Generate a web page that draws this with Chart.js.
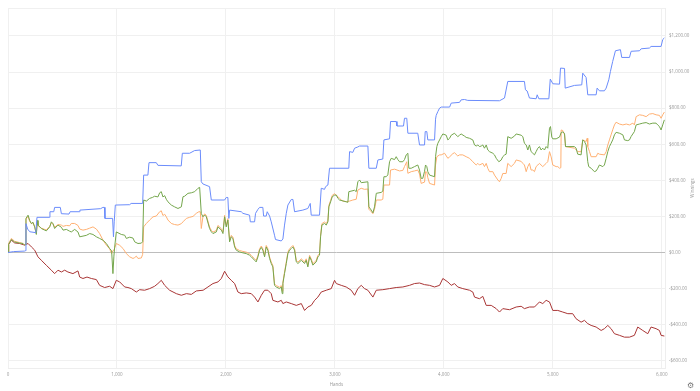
<!DOCTYPE html>
<html>
<head>
<meta charset="utf-8">
<style>
    html, body { margin: 0; padding: 0; background: #fff; }
    .c-graph { position: relative; width: 700px; height: 391px; }
    .c-graph__cog { position: absolute; left: 687px; top: 381px; font: 8px "DejaVu Sans", sans-serif; color: #777; }
</style>
<script src="https://cdn.jsdelivr.net/npm/chart.js@4.4.0/dist/chart.umd.min.js"></script>
</head>
<body>
<div class="c-graph js-graph">
    <canvas class="js-graph-canvas" width="700" height="391"></canvas>
    <span class="c-graph__cog">⚙</span>
</div>
<script>
// [hands, winnings]
const blueSeries = [[0,0],[50,5],[153,8],[160,10],[165,160],[180,130],[200,115],[255,110],[266,195],[380,195],[385,226],[420,226],[428,250],[480,250],[490,215],[560,213],[570,226],[655,226],[660,235],[850,243],[871,250],[885,250],[890,189],[960,189],[968,87],[975,170],[985,263],[1117,265],[1130,272],[1236,272],[1245,429],[1284,429],[1294,498],[1361,498],[1376,483],[1590,480],[1600,550],[1667,550],[1713,565],[1765,568],[1774,392],[1789,380],[1850,365],[1866,291],[1988,291],[2003,305],[2018,305],[2027,189],[2034,235],[2141,226],[2156,217],[2217,207],[2224,170],[2263,170],[2272,217],[2294,239],[2309,250],[2339,250],[2346,202],[2370,202],[2379,226],[2401,202],[2416,170],[2446,96],[2455,72],[2508,64],[2523,75],[2538,152],[2554,217],[2569,263],[2600,294],[2615,294],[2630,226],[2706,235],[2752,244],[2774,272],[2783,207],[2859,207],[2875,356],[2905,350],[2915,365],[2936,374],[2951,467],[3128,467],[3135,559],[3165,555],[3181,578],[3211,585],[3227,590],[3303,590],[3312,467],[3380,467],[3395,513],[3440,518],[3450,624],[3502,630],[3511,726],[3563,726],[3570,701],[3630,701],[3639,744],[3660,744],[3670,661],[3761,661],[3777,596],[3823,596],[3829,670],[3844,670],[3853,624],[3915,624],[3924,739],[3930,760],[3945,781],[3961,800],[3976,806],[4053,806],[4068,828],[4144,832],[4159,846],[4190,848],[4220,843],[4511,841],[4557,856],[4587,948],[4740,948],[4749,902],[4765,895],[4786,856],[4847,852],[4857,874],[4872,852],[4964,852],[4977,961],[5001,935],[5062,933],[5071,1022],[5108,1020],[5114,911],[5199,926],[5266,929],[5275,994],[5306,970],[5321,874],[5398,874],[5407,911],[5428,896],[5474,896],[5490,911],[5514,957],[5529,1003],[5550,1059],[5575,1118],[5621,1124],[5633,1081],[5704,1081],[5719,1115],[5796,1118],[5811,1129],[5887,1133],[5902,1142],[5994,1142],[6009,1180],[6024,1189]];

const greenSeries = [[0,0],[6,45],[31,72],[61,58],[107,52],[138,50],[153,41],[160,45],[165,189],[184,207],[199,178],[215,160],[229,168],[245,142],[260,100],[270,178],[275,152],[306,133],[337,124],[352,120],[383,142],[398,170],[413,160],[428,133],[459,152],[490,140],[505,124],[536,128],[566,118],[581,114],[612,128],[642,114],[658,87],[719,95],[750,105],[780,100],[811,87],[841,78],[872,68],[903,50],[933,22],[951,10],[963,-117],[972,-20],[979,30],[994,114],[1040,100],[1071,96],[1086,78],[1117,85],[1147,80],[1163,59],[1193,50],[1224,52],[1236,60],[1245,291],[1270,285],[1300,300],[1325,305],[1346,312],[1376,308],[1392,331],[1407,337],[1422,308],[1438,315],[1453,295],[1468,281],[1499,263],[1529,253],[1560,244],[1591,253],[1606,309],[1621,312],[1652,328],[1683,331],[1713,337],[1744,356],[1759,361],[1774,217],[1789,198],[1805,208],[1820,198],[1850,133],[1866,115],[1881,105],[1912,114],[1927,142],[1958,124],[1973,105],[1988,198],[2003,142],[2018,180],[2034,59],[2049,87],[2064,78],[2080,31],[2095,13],[2126,3],[2156,-2],[2187,-6],[2217,-15],[2233,-24],[2263,-43],[2278,-52],[2294,-24],[2309,13],[2325,28],[2339,13],[2355,-24],[2370,31],[2385,13],[2401,-33],[2416,-61],[2431,-80],[2446,-182],[2462,-191],[2492,-200],[2508,-191],[2517,-228],[2523,-172],[2538,-117],[2554,-61],[2569,-6],[2584,13],[2600,22],[2615,31],[2630,13],[2646,-52],[2661,-61],[2692,-43],[2722,-61],[2737,-43],[2752,-80],[2768,-24],[2783,-43],[2798,-70],[2829,-52],[2844,-24],[2859,-15],[2869,87],[2881,152],[2905,161],[2921,152],[2936,170],[2945,253],[2961,281],[2976,309],[2997,318],[3013,318],[3028,300],[3043,291],[3104,281],[3119,278],[3128,337],[3181,345],[3196,337],[3211,392],[3227,402],[3242,387],[3303,392],[3312,253],[3334,235],[3349,220],[3364,253],[3380,328],[3425,333],[3440,340],[3450,420],[3471,420],[3486,430],[3502,503],[3517,522],[3548,515],[3563,531],[3578,515],[3594,503],[3624,503],[3639,515],[3655,541],[3670,550],[3679,467],[3701,467],[3731,476],[3761,485],[3777,457],[3792,411],[3807,411],[3823,450],[3832,485],[3844,476],[3853,448],[3869,429],[3915,420],[3924,531],[3936,587],[3945,605],[3961,624],[3976,642],[3991,657],[4022,650],[4037,624],[4053,633],[4068,650],[4098,661],[4128,642],[4144,650],[4159,657],[4190,645],[4205,638],[4236,633],[4266,624],[4282,596],[4297,590],[4312,596],[4327,587],[4343,590],[4358,596],[4373,578],[4389,596],[4404,568],[4419,559],[4450,550],[4465,541],[4481,522],[4505,503],[4526,512],[4541,531],[4557,540],[4572,545],[4587,642],[4618,633],[4648,645],[4664,657],[4710,650],[4725,642],[4740,605],[4756,596],[4771,568],[4786,596],[4801,559],[4817,550],[4832,541],[4847,559],[4863,578],[4878,587],[4893,568],[4908,578],[4924,568],[4939,587],[4954,578],[4970,689],[4979,698],[4991,640],[5000,630],[5031,630],[5062,640],[5077,665],[5092,668],[5108,660],[5117,587],[5199,587],[5214,578],[5229,545],[5260,541],[5275,624],[5291,615],[5306,596],[5321,503],[5330,476],[5352,467],[5382,448],[5398,452],[5413,467],[5428,485],[5459,476],[5474,485],[5490,522],[5505,559],[5520,587],[5535,605],[5550,624],[5566,652],[5581,666],[5612,661],[5643,652],[5658,624],[5688,620],[5704,624],[5719,643],[5749,670],[5765,707],[5796,712],[5826,717],[5857,720],[5887,712],[5918,717],[5948,717],[5963,707],[5979,698],[5994,679],[6009,707],[6024,735]];

const orangeSeries = [[0,0],[6,50],[31,78],[61,62],[107,55],[138,50],[153,41],[160,45],[165,185],[184,200],[199,172],[215,160],[229,165],[245,140],[260,105],[270,175],[275,150],[306,135],[337,128],[352,125],[383,145],[398,165],[413,158],[428,140],[459,155],[490,152],[505,145],[536,150],[566,148],[581,161],[612,161],[642,150],[658,130],[688,124],[719,128],[750,135],[780,142],[811,130],[841,105],[872,68],[903,41],[933,20],[951,-6],[963,10],[972,13],[994,50],[1025,40],[1056,22],[1086,-6],[1117,-24],[1147,-33],[1163,-28],[1178,-20],[1193,-33],[1224,-30],[1236,-10],[1245,142],[1270,161],[1300,180],[1331,198],[1361,202],[1392,226],[1407,231],[1422,205],[1438,212],[1453,198],[1468,180],[1499,161],[1529,155],[1560,152],[1591,160],[1606,170],[1637,189],[1667,195],[1698,200],[1728,217],[1752,226],[1765,226],[1774,133],[1789,198],[1805,214],[1820,206],[1850,141],[1866,123],[1881,113],[1912,122],[1927,150],[1958,132],[1973,113],[1988,206],[2003,150],[2018,188],[2034,67],[2049,95],[2064,86],[2080,39],[2095,21],[2126,11],[2156,6],[2187,2],[2217,-7],[2233,-16],[2263,-35],[2278,-44],[2294,-16],[2309,21],[2325,36],[2339,21],[2355,-16],[2370,39],[2385,21],[2401,-25],[2416,-53],[2431,-72],[2446,-174],[2462,-183],[2492,-192],[2508,-183],[2517,-215],[2523,-164],[2538,-109],[2554,-53],[2569,2],[2584,21],[2600,30],[2615,39],[2630,21],[2646,-44],[2661,-53],[2692,-35],[2722,-53],[2737,-35],[2752,-72],[2768,-16],[2783,-35],[2798,-62],[2829,-44],[2844,-16],[2859,-7],[2869,95],[2881,160],[2905,169],[2921,160],[2936,178],[2945,261],[2961,289],[2976,317],[2997,326],[3028,310],[3043,300],[3059,291],[3074,285],[3104,282],[3135,285],[3165,291],[3196,295],[3211,346],[3242,356],[3272,350],[3303,352],[3312,240],[3334,226],[3349,215],[3364,240],[3380,291],[3425,291],[3440,295],[3450,374],[3502,374],[3511,457],[3548,462],[3594,452],[3624,455],[3639,476],[3660,503],[3670,439],[3701,448],[3731,452],[3761,457],[3777,435],[3792,383],[3823,390],[3832,448],[3844,445],[3853,415],[3869,383],[3915,374],[3924,485],[3936,531],[3961,541],[3976,541],[4007,550],[4037,522],[4053,530],[4083,548],[4098,553],[4128,535],[4144,541],[4174,541],[4205,531],[4236,522],[4266,503],[4297,485],[4312,494],[4327,485],[4358,494],[4373,476],[4389,494],[4404,466],[4419,448],[4450,448],[4465,429],[4496,402],[4511,392],[4526,410],[4541,438],[4572,438],[4587,494],[4618,476],[4648,494],[4664,513],[4710,505],[4725,494],[4740,485],[4756,448],[4771,476],[4786,494],[4801,457],[4817,457],[4832,448],[4847,476],[4863,485],[4878,494],[4908,476],[4939,494],[4954,503],[4970,559],[4985,530],[5000,485],[5031,476],[5046,476],[5062,467],[5074,470],[5077,679],[5092,676],[5108,652],[5117,587],[5199,578],[5214,570],[5229,559],[5260,559],[5275,624],[5306,615],[5316,633],[5321,587],[5337,559],[5352,531],[5398,531],[5413,550],[5428,545],[5474,541],[5490,559],[5505,596],[5520,624],[5535,652],[5550,680],[5566,707],[5581,722],[5612,712],[5643,707],[5674,712],[5704,707],[5735,717],[5749,707],[5765,753],[5796,763],[5826,760],[5857,753],[5887,767],[5918,770],[5948,763],[5979,760],[5994,744],[6009,763],[6024,778]];

const redSeries = [[0,0],[6,45],[31,68],[61,53],[107,50],[153,41],[184,50],[215,31],[245,13],[275,-24],[306,-43],[352,-71],[398,-98],[428,-117],[459,-98],[490,-108],[520,-98],[550,-108],[596,-117],[642,-102],[658,-136],[688,-144],[725,-136],[765,-144],[811,-150],[841,-182],[887,-194],[933,-187],[963,-200],[994,-154],[1025,-163],[1071,-191],[1101,-194],[1132,-200],[1178,-219],[1208,-206],[1254,-209],[1300,-200],[1346,-187],[1376,-172],[1407,-154],[1438,-182],[1483,-209],[1545,-228],[1591,-237],[1637,-228],[1683,-232],[1728,-213],[1791,-209],[1835,-191],[1881,-172],[1927,-163],[1958,-144],[1988,-104],[2018,-135],[2049,-154],[2080,-172],[2110,-219],[2141,-228],[2187,-224],[2233,-228],[2263,-247],[2294,-274],[2325,-237],[2355,-209],[2385,-209],[2416,-228],[2431,-265],[2477,-274],[2508,-265],[2523,-283],[2554,-274],[2600,-283],[2646,-293],[2692,-283],[2722,-321],[2752,-302],[2783,-293],[2814,-265],[2844,-247],[2875,-219],[2921,-209],[2967,-200],[2997,-154],[3013,-172],[3059,-182],[3104,-191],[3150,-209],[3181,-237],[3211,-200],[3242,-182],[3272,-200],[3303,-209],[3349,-247],[3380,-209],[3440,-206],[3502,-200],[3563,-194],[3624,-191],[3685,-182],[3731,-172],[3777,-169],[3823,-178],[3869,-182],[3915,-191],[3961,-182],[3991,-144],[4037,-163],[4068,-182],[4098,-172],[4128,-191],[4174,-200],[4236,-209],[4266,-219],[4282,-247],[4327,-256],[4358,-243],[4389,-293],[4435,-293],[4481,-311],[4511,-330],[4541,-311],[4603,-317],[4664,-302],[4710,-298],[4740,-311],[4786,-302],[4832,-302],[4878,-274],[4908,-283],[4939,-265],[4970,-274],[5000,-321],[5046,-321],[5092,-330],[5138,-339],[5183,-339],[5214,-367],[5260,-386],[5291,-376],[5321,-394],[5352,-404],[5398,-413],[5444,-432],[5474,-422],[5505,-404],[5535,-422],[5566,-450],[5612,-459],[5658,-469],[5704,-469],[5749,-459],[5780,-413],[5826,-432],[5872,-450],[5902,-413],[5948,-422],[5979,-432],[5994,-459],[6024,-463]];

const handTicks = [0, 1000, 2000, 3000, 4000, 5000, 6000];
const winningTicks = [-600, -400, -200, 0, 200, 400, 600, 800, 1000, 1200];

const handsMax = 6030;
const winningsMin = -640;
const winningsMax = 1355;

class WinningsGraph {
    constructor(canvas) {
        this.canvas = canvas;
        this.money = new Intl.NumberFormat('en-US', { style: 'currency', currency: 'USD' });
        this.font = { family: '"Open Sans", sans-serif', size: 4.5 };
    }

    toPoints(series) {
        return series.map(([x, y]) => ({ x, y }));
    }

    line(data, color) {
        return {
            data: this.toPoints(data),
            borderColor: color,
            backgroundColor: color,
            borderWidth: 1,
            pointRadius: 0,
            tension: 0,
            fill: false
        };
    }

    renderChart() {
        const font = this.font;

        // title on the right reads bottom to top, chart.js would turn it the other way
        const sideTitle = {
            id: 'sideTitle',
            afterDraw(chart) {
                const ctx = chart.ctx;
                const area = chart.chartArea;
                ctx.save();
                ctx.translate(chart.width - 7, (area.top + area.bottom) / 2);
                ctx.rotate(-Math.PI / 2);
                ctx.font = font.size + 'px ' + font.family;
                ctx.fillStyle = '#999';
                ctx.textAlign = 'center';
                ctx.textBaseline = 'middle';
                ctx.fillText('Winnings', 0, 0);
                ctx.restore();
            }
        };

        this.chart = new Chart(this.canvas, {
            type: 'line',
            data: {
                datasets: [
                    this.line(blueSeries, '#6b8cfb'),
                    this.line(greenSeries, '#74a64c'),
                    this.line(orangeSeries, '#ffb072'),
                    this.line(redSeries, '#a93535')
                ]
            },
            options: {
                responsive: false,
                animation: false,
                layout: { padding: { left: 8, top: 8, right: 0, bottom: 0 } },
                plugins: { legend: { display: false }, tooltip: { enabled: false } },
                scales: {
                    x: {
                        type: 'linear',
                        min: 0,
                        max: handsMax,
                        afterBuildTicks: scale => { scale.ticks = handTicks.map(value => ({ value })); },
                        afterFit: scale => { scale.height = 23; },
                        grid: { color: '#f0f0f0', drawTicks: false },
                        border: { color: '#eeeeee' },
                        ticks: {
                            padding: 4,
                            maxRotation: 0,
                            color: '#999',
                            font,
                            callback: value => value.toLocaleString('en-US')
                        },
                        title: { display: true, text: 'Hands', color: '#999', font, padding: { top: 0, bottom: 4 } }
                    },
                    y: {
                        type: 'linear',
                        position: 'right',
                        min: winningsMin,
                        max: winningsMax,
                        afterBuildTicks: scale => { scale.ticks = [...winningTicks, winningsMax].map(value => ({ value })); },
                        afterFit: scale => { scale.width = 35; },
                        grid: {
                            color: ctx => (ctx.tick && ctx.tick.value === 0 ? '#bdbdbd' : '#f0f0f0'),
                            drawTicks: false
                        },
                        border: { color: '#eeeeee' },
                        ticks: {
                            padding: 4,
                            color: '#999',
                            font,
                            callback: value => (winningTicks.includes(value) ? this.money.format(value) : '')
                        }
                    }
                }
            },
            plugins: [sideTitle]
        });
    }

    run() {
        this.renderChart();
    }
}

new WinningsGraph(document.querySelector('.js-graph-canvas')).run();
</script>
</body>
</html>
